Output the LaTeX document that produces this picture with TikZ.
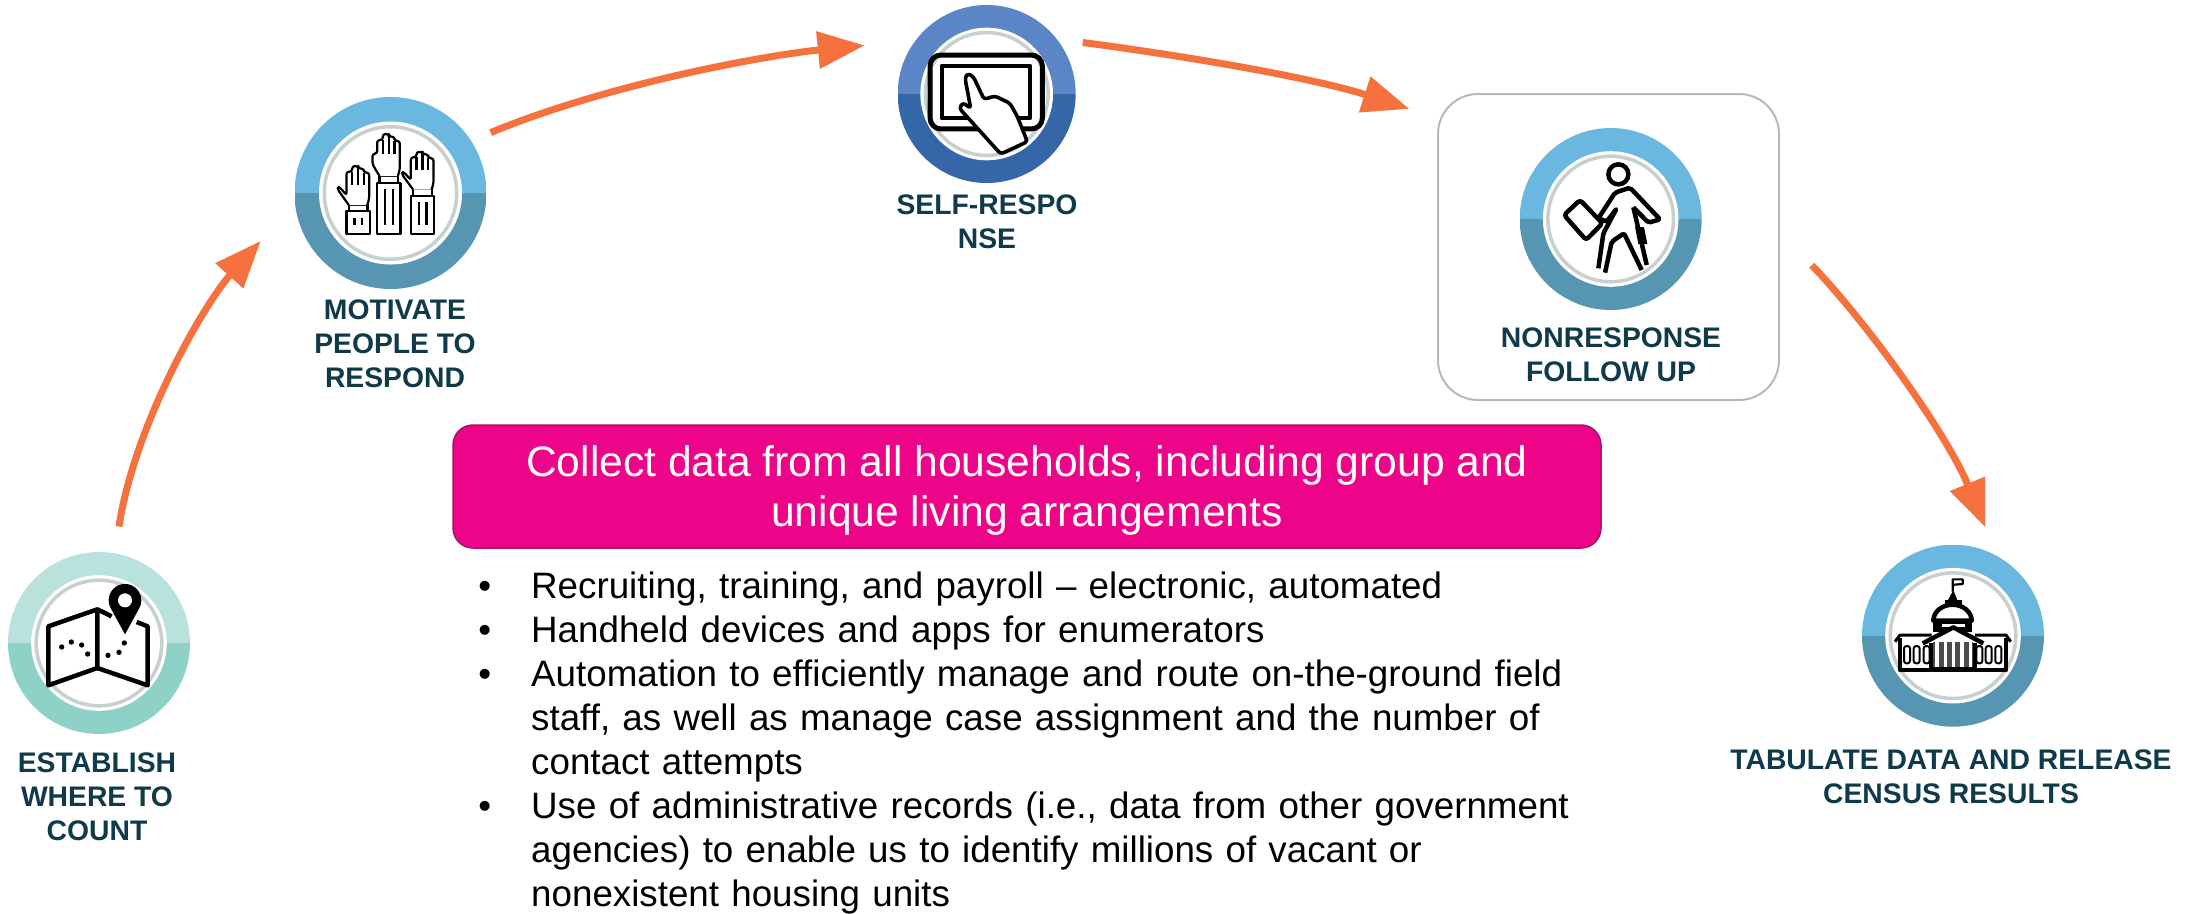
\documentclass[tikz,border=0pt]{standalone}
\usepackage{fontspec}
\setmainfont{Liberation Sans}
\usetikzlibrary{positioning,arrows.meta}
\definecolor{flowcol}{HTML}{F5713D}
\definecolor{labelcol}{HTML}{0E3A4A}
\definecolor{ringgrey}{HTML}{C8D0CF}
\definecolor{tealtop}{HTML}{BAE2DD}
\definecolor{tealbot}{HTML}{8ED1C6}
\definecolor{skytop}{HTML}{6AB8DF}
\definecolor{skybot}{HTML}{5696B3}
\definecolor{bluetop}{HTML}{5B86C5}
\definecolor{bluebot}{HTML}{3566A8}
\definecolor{bannercol}{HTML}{EE0489}
\definecolor{bannerline}{HTML}{A0146E}
\newcommand{\mapicon}{
	\draw[iconline] (145,258) -- (292,207) -- (292,383) -- (145,435) -- cycle;
	\draw[iconline] (292,207) -- (335,228);
	\draw[iconline] (292,383) -- (443,435) -- (443,258) -- (410,245);
	\foreach \dotx/\doty in {185/320,214/305,245/314,263/341,324/345,357/336,373/308}
		\fill (\dotx,\doty) circle (8);
	\fill (375,282) -- (333,205) arc (149:391:49) -- cycle;
	\fill[white] (375,180) circle (21);
}
\newcommand{\raisedhand}[5]{
	\begin{scope}[shift={(#1,#2)}]
		\draw[thinline] (0,0) rectangle (70,#3);
		\draw[thinline] (7,-20) rectangle (63,0);
		\draw[thinline] (24,20) -- (24,#3-25) (47,20) -- (47,#3-25);
		\begin{scope}[yscale=#4]
			\draw[thinline,rounded corners=2.6pt,fill=white] (7,-20) -- #5 -- (0,-128) -- (17,-128) -- (17,-146) -- (35,-146) -- (35,-138) -- (52,-138) -- (52,-125) -- (68,-125) -- (68,-40) -- (62,-20);
			\draw[thinline] (17,-128) -- (17,-85) (35,-138) -- (35,-85) (52,-125) -- (52,-85);
		\end{scope}
	\end{scope}
}
\newcommand{\tableticon}{
	\draw[iconline,line width=5pt,rounded corners=11pt] (150,165) rectangle (487,387);
	\draw[iconline,line width=4pt] (185,197) rectangle (450,355);
	\draw[iconline,line width=3.6pt,fill=white,rounded corners=3pt] (262,220) -- (280,230) -- (312,298) -- (345,288) -- (390,310) -- (412,350) -- (442,425) -- (362,462) -- (315,410) -- (238,325) -- (248,308) -- (272,325) -- (255,235) -- cycle;
}
\newcommand{\walkericon}{
	\draw[iconline] (355,163) circle (30);
	\draw[iconline,rounded corners=3pt] (192,285) -- (240,240) -- (307,310) -- (258,360) -- cycle;
	\draw[iconline,rounded corners=2pt] (295,295) -- (345,218) -- (390,203) -- (480,298) -- (445,308) -- (400,262);
	\draw[iconline,rounded corners=2pt] (295,295) -- (320,305) -- (350,265) -- (310,340) -- (295,445);
	\draw[iconline,rounded corners=2pt] (315,458) -- (335,365) -- (372,340) -- (425,450);
	\draw[iconline] (400,262) -- (440,435);
	\fill (405,320) -- (432,322) -- (442,372) -- (415,372) -- cycle;
}
\newcommand{\capitolicon}{
	\draw[iconline,line width=3pt] (135,335) -- (150,315) -- (245,315);
	\draw[iconline,line width=3pt] (375,315) -- (468,315) -- (482,335);
	\draw[iconline] (150,325) -- (150,420) -- (245,420) -- (245,340);
	\draw[iconline] (468,325) -- (468,420) -- (373,420) -- (373,340);
	\foreach \winx in {171,200,230,388,416,445}
		\draw[thinline,line width=2pt,rounded corners=2.5pt] (\winx-9,400) -- (\winx-9,348) -- (\winx+9,348) -- (\winx+9,400) -- cycle;
	\fill[black!70] (250,335) rectangle (370,415);
	\foreach \colx in {256,281,306,331,356}
		\fill[white] (\colx,335) rectangle (\colx+10,415);
	\draw[iconline] (250,418) -- (370,418);
	\draw[iconline] (250,272) arc (180:360:57.5 and 48) -- cycle;
	\fill (250,275) rectangle (365,305);
	\fill[white] (275,282) rectangle (345,290);
	\fill[white] (250,335) -- (310,296) -- (370,335) -- cycle;
	\draw[iconline] (218,340) -- (310,292) -- (400,340);
	\fill (285,210) rectangle (335,226);
	\fill (294,210) -- (310,180) -- (322,210) -- cycle;
	\draw[thinline] (308,185) -- (308,148) -- (338,148) -- (338,162) -- (312,164);
}
\begin{document}
	\begin{tikzpicture}
		[x=1pt,y=-1pt,
		ring/.style n args={3}{
			circle,
			inner sep=0pt,
			minimum size=2*#3 pt,
			path picture={
				\coordinate (c) at (path picture bounding box.center);
				\fill[#1] ([xshift=-#3 pt]c) rectangle ([xshift=#3 pt,yshift=#3 pt]c);
				\fill[#2] ([xshift=-#3 pt]c) rectangle ([xshift=#3 pt,yshift=-#3 pt]c);
				\fill[white] (c) circle (.745*#3);
				\draw[ringgrey,line width=3.5pt] (c) circle (.69*#3);
			}
		},
		steplabel/.style={font=\bfseries\fontsize{28.3}{34}\selectfont,text=labelcol,align=center,inner sep=0pt},
		flow/.style={draw=flowcol,line width=7pt,-{Triangle[length=47pt,width=36pt]}},
		iconat/.style n args={3}{x=.3333pt,y=-.3333pt,shift={(#1.center)},shift={(-#2,-#3)}},
		iconline/.style={line width=4.5pt,line join=round},
		thinline/.style={line width=2.2pt,line join=round},
		banner/.style={rectangle,rounded corners=20pt,draw=bannerline,line width=1.5pt,fill=bannercol,text=white,minimum width=1148pt,minimum height=123pt,align=center,text depth=1pt,font=\fontsize{42.6}{50.5}\selectfont}]
		\useasboundingbox (0,0) rectangle (2198,913);
		\node[rectangle,rounded corners=40pt,draw=black!28,line width=2pt,minimum width=341pt,minimum height=306pt] (followupbox) at (1608.5,247) {};
		\node[ring={tealtop}{tealbot}{91}] (establish) at (99,643) {};
		\node[ring={skytop}{skybot}{96}] (motivate) at (390.5,193) {};
		\node[ring={bluetop}{bluebot}{89}] (selfresp) at (986.7,94) {};
		\node[ring={skytop}{skybot}{91}] (followup) at (1610.7,219) {};
		\node[ring={skytop}{skybot}{91}] (tabulate) at (1953,635.7) {};
		\node[steplabel,anchor=north] (establishlabel) at (97,753) {ESTABLISH\\WHERE TO\\COUNT};
		\node[steplabel,anchor=north] (motivatelabel) at (395,300) {MOTIVATE\\PEOPLE TO\\RESPOND};
		\node[steplabel,anchor=north] (selfresplabel) at (987,195) {SELF-RESPO\\NSE};
		\node[steplabel,anchor=north] (followuplabel) at (1611,328) {NONRESPONSE\\FOLLOW UP};
		\node[steplabel,anchor=north] (tabulatelabel) at (1951,750) {TABULATE DATA AND RELEASE\\CENSUS RESULTS};
		\node[banner] (collect) at (1027,486.5) {Collect data from all households, including group and\\unique living arrangements};
		\node[anchor=north west,inner sep=0pt,text width=1200pt,font=\fontsize{36.75}{44.05}\selectfont] (points) at (471,554) {%
			\begin{list}{\textbullet}{\setlength{\leftmargin}{60pt}\setlength{\labelwidth}{20pt}\setlength{\labelsep}{40pt}\setlength{\itemsep}{0pt}\setlength{\topsep}{0pt}\setlength{\parsep}{0pt}\setlength{\partopsep}{0pt}}
				\item Recruiting, training, and payroll – electronic, automated
				\item Handheld devices and apps for enumerators
				\item Automation to efficiently manage and route on-the-ground field\\staff, as well as manage case assignment and the number of\\contact attempts
				\item Use of administrative records (i.e., data from other government\\agencies) to enable us to identify millions of vacant or\\nonexistent housing units
			\end{list}};
		\begin{scope}[iconat={establish}{297}{308}]
			\mapicon
		\end{scope}
		\begin{scope}[iconat={motivate}{332}{308}]
			\raisedhand{292}{277}{153}{1}{(-14,-55) -- (-14,-87) -- (0,-87)}
			\raisedhand{200}{363}{67}{.93}{(-28,-73) -- (-22,-80) -- (0,-52)}
			\raisedhand{393}{316}{114}{.9}{(-28,-73) -- (-22,-80) -- (0,-52)}
		\end{scope}
		\begin{scope}[iconat={selfresp}{320}{282}]
			\tableticon
		\end{scope}
		\begin{scope}[iconat={followup}{332}{297}]
			\walkericon
		\end{scope}
		\begin{scope}[iconat={tabulate}{309}{317}]
			\capitolicon
		\end{scope}
		\draw[flow,shorten <=27pt,shorten >=51pt] (establish.80) .. controls +(20,-130) and +(-90,100) .. (motivate.186);
		\draw[flow,shorten <=21pt,shorten >=51pt] (motivate.33) .. controls +(138,-57) and +(-150,15) .. (selfresp.143);
		\draw[flow,shorten <=26pt,shorten >=29pt] (selfresp.38) .. controls +(129,17) and +(-124,-40) .. (followupbox.143.5);
		\draw[flow,shorten <=46pt,shorten >=31pt] (followupbox.5) .. controls +(90,94) and +(-50,-121) .. (tabulate.61);
	\end{tikzpicture}
\end{document}
